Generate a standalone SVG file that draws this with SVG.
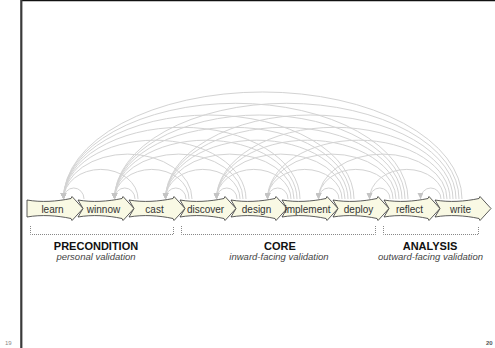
<svg xmlns="http://www.w3.org/2000/svg" xmlns:xlink="http://www.w3.org/1999/xlink" width="495" height="348" viewBox="0 0 495 348">
<style>
.arc{fill:none;stroke:#d3d3d3;stroke-width:1;marker-end:url(#ah)}
.stage{fill:#f9f9e4;stroke:#333;stroke-width:0.8;stroke-linejoin:miter}
.lbl{font-family:"Liberation Sans",Arial,sans-serif;font-size:10px;fill:#333;text-anchor:middle}
.grp{font-family:"Liberation Sans",Arial,sans-serif;font-size:11px;font-weight:bold;fill:#111;text-anchor:middle}
.sub{font-family:"Liberation Sans",Arial,sans-serif;font-size:9.5px;font-style:italic;fill:#444;text-anchor:middle}
.brk{fill:none;stroke:#888;stroke-width:1;stroke-dasharray:1,1}
.pg{font-family:"Liberation Sans",Arial,sans-serif;font-size:6px;fill:#888}
</style>
<defs>
<marker id="ah" markerUnits="userSpaceOnUse" markerWidth="6" markerHeight="6" viewBox="0 0 6 6" refX="6" refY="3" orient="auto">
<path d="M0,0 L6,3 L0,6 z" fill="#c4c4c4"/>
</marker>
<path id="stg" d="M0,200 C14,202.5 30,201.5 44,198.5 L45,196.5 L56,208.5 L45,220.5 L44,218.5 C30,215.5 14,214.5 0,217 L5,208.5 Z"/>
<path id="stg0" d="M0,200 C14,202.5 30,201.5 44,198.5 L45,196.5 L56,208.5 L45,220.5 L44,218.5 C30,215.5 14,214.5 0,217 Z"/>
</defs>
<rect width="495" height="348" fill="#fff"/>
<g id="page">
<line x1="21" y1="0.6" x2="495" y2="0.6" stroke="#111" stroke-width="1.3"/>
<rect x="20.2" y="0" width="2.2" height="348" fill="#3a3a3a"/>
<text class="pg" x="5" y="345">19</text>
<text class="pg" x="486" y="345" style="font-weight:bold;fill:#555">20</text>
</g>
<g id="connectors">
<path class="arc" d="M84,199 A10.25,11 0 0 0 63.5,199"/>
<path class="arc" d="M135,199 A10.25,11 0 0 0 114.5,199"/>
<path class="arc" d="M138,199 A37.25,29.6 0 0 0 63.5,199"/>
<path class="arc" d="M186,199 A10.25,11 0 0 0 165.5,199"/>
<path class="arc" d="M189,199 A37.25,29.6 0 0 0 114.5,199"/>
<path class="arc" d="M192,199 A64.25,44.9 0 0 0 63.5,199"/>
<path class="arc" d="M237,199 A10.25,11 0 0 0 216.5,199"/>
<path class="arc" d="M240,199 A37.25,29.6 0 0 0 165.5,199"/>
<path class="arc" d="M243,199 A64.25,44.9 0 0 0 114.5,199"/>
<path class="arc" d="M246,199 A91.25,58.8 0 0 0 63.5,199"/>
<path class="arc" d="M288,199 A10.25,11 0 0 0 267.5,199"/>
<path class="arc" d="M291,199 A37.25,29.6 0 0 0 216.5,199"/>
<path class="arc" d="M294,199 A64.25,44.9 0 0 0 165.5,199"/>
<path class="arc" d="M297,199 A91.25,58.8 0 0 0 114.5,199"/>
<path class="arc" d="M300,199 A118.25,71.7 0 0 0 63.5,199"/>
<path class="arc" d="M339,199 A10.25,11 0 0 0 318.5,199"/>
<path class="arc" d="M342,199 A37.25,29.6 0 0 0 267.5,199"/>
<path class="arc" d="M345,199 A64.25,44.9 0 0 0 216.5,199"/>
<path class="arc" d="M348,199 A91.25,58.8 0 0 0 165.5,199"/>
<path class="arc" d="M351,199 A118.25,71.7 0 0 0 114.5,199"/>
<path class="arc" d="M354,199 A145.25,84 0 0 0 63.5,199"/>
<path class="arc" d="M390,199 A10.25,11 0 0 0 369.5,199"/>
<path class="arc" d="M393,199 A37.25,29.6 0 0 0 318.5,199"/>
<path class="arc" d="M396,199 A64.25,44.9 0 0 0 267.5,199"/>
<path class="arc" d="M399,199 A91.25,58.8 0 0 0 216.5,199"/>
<path class="arc" d="M402,199 A118.25,71.7 0 0 0 165.5,199"/>
<path class="arc" d="M405,199 A145.25,84 0 0 0 114.5,199"/>
<path class="arc" d="M408,199 A172.25,95.7 0 0 0 63.5,199"/>
<path class="arc" d="M441,199 A10.25,11 0 0 0 420.5,199"/>
<path class="arc" d="M444,199 A37.25,29.6 0 0 0 369.5,199"/>
<path class="arc" d="M447,199 A64.25,44.9 0 0 0 318.5,199"/>
<path class="arc" d="M450,199 A91.25,58.8 0 0 0 267.5,199"/>
<path class="arc" d="M453,199 A118.25,71.7 0 0 0 216.5,199"/>
<path class="arc" d="M456,199 A145.25,84 0 0 0 165.5,199"/>
<path class="arc" d="M459,199 A172.25,95.7 0 0 0 114.5,199"/>
<path class="arc" d="M462,199 A199.25,107 0 0 0 63.5,199"/>
</g>
<g id="learn" transform="translate(27,0)"><use xlink:href="#stg0" class="stage"/><text class="lbl" x="25.5" y="212.5">learn</text></g>
<g id="winnow" transform="translate(78,0)"><use xlink:href="#stg" class="stage"/><text class="lbl" x="25.5" y="212.5">winnow</text></g>
<g id="cast" transform="translate(129,0)"><use xlink:href="#stg" class="stage"/><text class="lbl" x="25.5" y="212.5">cast</text></g>
<g id="discover" transform="translate(180,0)"><use xlink:href="#stg" class="stage"/><text class="lbl" x="25.5" y="212.5">discover</text></g>
<g id="design" transform="translate(231,0)"><use xlink:href="#stg" class="stage"/><text class="lbl" x="25.5" y="212.5">design</text></g>
<g id="implement" transform="translate(282,0)"><use xlink:href="#stg" class="stage"/><text class="lbl" x="25.5" y="212.5">implement</text></g>
<g id="deploy" transform="translate(333,0)"><use xlink:href="#stg" class="stage"/><text class="lbl" x="25.5" y="212.5">deploy</text></g>
<g id="reflect" transform="translate(384,0)"><use xlink:href="#stg" class="stage"/><text class="lbl" x="25.5" y="212.5">reflect</text></g>
<g id="write" transform="translate(435,0)"><use xlink:href="#stg" class="stage"/><text class="lbl" x="25.5" y="212.5">write</text></g>
<g id="precondition">
<path class="brk" d="M30.5,226 V234.5 H173.5 V226"/>
<text class="grp" x="96" y="250">PRECONDITION</text>
<text class="sub" x="96" y="260">personal validation</text>
</g>
<g id="core">
<path class="brk" d="M181.5,226 V234.5 H375.5 V226"/>
<text class="grp" x="280" y="250">CORE</text>
<text class="sub" x="279" y="260">inward-facing validation</text>
</g>
<g id="analysis">
<path class="brk" d="M383.5,226 V234.5 H478.5 V226"/>
<text class="grp" x="430" y="250">ANALYSIS</text>
<text class="sub" x="430.5" y="260">outward-facing validation</text>
</g>
</svg>
